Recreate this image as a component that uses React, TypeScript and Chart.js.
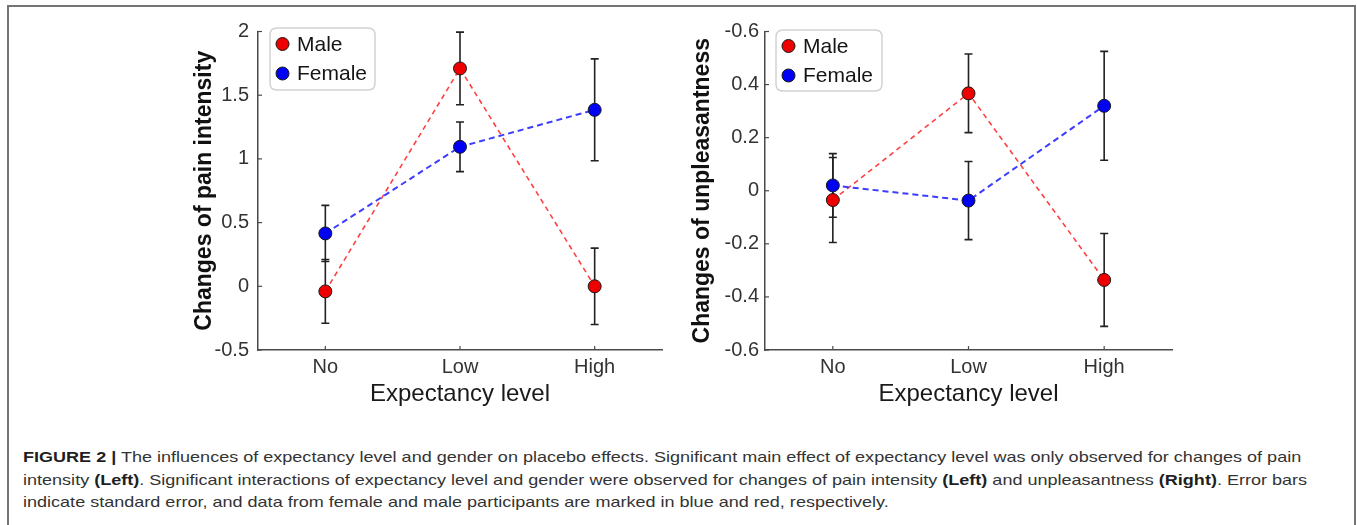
import React, { useEffect, useLayoutEffect, useRef } from "react";
import { Chart, registerables } from "chart.js";

Chart.register(...registerables);

// ---------- data ----------
const CATEGORIES = ["No", "Low", "High"];

const PAIN_MALE = [-0.04, 1.71, 0.0];
const PAIN_MALE_ERR = [0.25, 0.285, 0.3];
const PAIN_FEMALE = [0.415, 1.095, 1.385];
const PAIN_FEMALE_ERR = [0.22, 0.195, 0.4];
const PAIN_TICKS = [-0.5, 0, 0.5, 1, 1.5, 2];
const PAIN_TICK_LABELS = ["-0.5", "0", "0.5", "1", "1.5", "2"];

const UNPL_MALE = [-0.035, 0.367, -0.336];
const UNPL_MALE_ERR = [0.16, 0.148, 0.175];
const UNPL_FEMALE = [0.02, -0.037, 0.32];
const UNPL_FEMALE_ERR = [0.12, 0.147, 0.205];
const UNPL_TICKS = [-0.6, -0.4, -0.2, 0, 0.2, 0.4, 0.6];
const UNPL_TICK_LABELS = ["-0.6", "-0.4", "-0.2", "0", "0.2", "0.4", "-0.6"];

const SERIES_LABELS = ["Male", "Female"];
const X_TITLE = "Expectancy level";
const Y_TITLE_LEFT = "Changes of pain intensity";
const Y_TITLE_RIGHT = "Changes of unpleasantness";

// ---------- styles ----------
const FONT = "'Liberation Sans', Arial, Helvetica, sans-serif";
const AXIS = "#4a4a4a";
const RED_LINE = "#ff4040";
const BLUE_LINE = "#3d3dff";
const RED_PT = "#ee0000";
const BLUE_PT = "#0000f5";

const errorBarPlugin = {
  id: "errorBars",
  beforeDatasetsDraw(chart: any) {
    const { ctx } = chart;
    const y = chart.scales.y;
    chart.data.datasets.forEach((ds: any, i: number) => {
      const errs = ds.errors;
      if (!errs) return;
      const meta = chart.getDatasetMeta(i);
      ctx.save();
      ctx.strokeStyle = "#222";
      ctx.lineWidth = 1.6;
      meta.data.forEach((pt: any, j: number) => {
        const v = ds.data[j];
        const yHi = y.getPixelForValue(v + errs[j]);
        const yLo = y.getPixelForValue(v - errs[j]);
        const x = pt.x;
        ctx.beginPath();
        ctx.moveTo(x, yHi);
        ctx.lineTo(x, yLo);
        ctx.moveTo(x - 4, yHi);
        ctx.lineTo(x + 4, yHi);
        ctx.moveTo(x - 4, yLo);
        ctx.lineTo(x + 4, yLo);
        ctx.stroke();
      });
      ctx.restore();
    });
  },
};

const tickMarkPlugin = {
  id: "inTicks",
  beforeDatasetsDraw(chart: any) {
    const { ctx, chartArea } = chart;
    const { x, y } = chart.scales;
    ctx.save();
    ctx.strokeStyle = AXIS;
    ctx.lineWidth = 1.2;
    y.ticks.forEach((t: any) => {
      const py = y.getPixelForValue(t.value);
      ctx.beginPath();
      ctx.moveTo(chartArea.left, py);
      ctx.lineTo(chartArea.left + 4, py);
      ctx.stroke();
    });
    x.ticks.forEach((_t: any, i: number) => {
      const px = x.getPixelForValue(i);
      ctx.beginPath();
      ctx.moveTo(px, chartArea.bottom);
      ctx.lineTo(px, chartArea.bottom - 4);
      ctx.stroke();
    });
    ctx.restore();
  },
};

const boxLegendPlugin = {
  id: "boxLegend",
  afterDraw(chart: any, _args: any, opts: any) {
    const { ctx, chartArea } = chart;
    const x0 = chartArea.left + opts.dx;
    const y0 = chartArea.top + opts.dy;
    const w = opts.w;
    const h = opts.h;
    const r = 7;
    ctx.save();
    ctx.beginPath();
    ctx.moveTo(x0 + r, y0);
    ctx.lineTo(x0 + w - r, y0);
    ctx.quadraticCurveTo(x0 + w, y0, x0 + w, y0 + r);
    ctx.lineTo(x0 + w, y0 + h - r);
    ctx.quadraticCurveTo(x0 + w, y0 + h, x0 + w - r, y0 + h);
    ctx.lineTo(x0 + r, y0 + h);
    ctx.quadraticCurveTo(x0, y0 + h, x0, y0 + h - r);
    ctx.lineTo(x0, y0 + r);
    ctx.quadraticCurveTo(x0, y0, x0 + r, y0);
    ctx.closePath();
    ctx.fillStyle = "#ffffff";
    ctx.fill();
    ctx.strokeStyle = "#d2d2d2";
    ctx.lineWidth = 1.5;
    ctx.stroke();
    chart.data.datasets.forEach((ds: any, i: number) => {
      const cx = x0 + 12.5;
      const cy = y0 + 16 + i * 29.5;
      ctx.beginPath();
      ctx.arc(cx, cy, 6.5, 0, Math.PI * 2);
      ctx.fillStyle = ds.pointBackgroundColor;
      ctx.fill();
      ctx.strokeStyle = "#1a1a1a";
      ctx.lineWidth = 1;
      ctx.stroke();
      ctx.fillStyle = "#151515";
      ctx.font = `21px ${FONT}`;
      ctx.textBaseline = "middle";
      ctx.textAlign = "left";
      ctx.fillText(ds.label, x0 + 27, cy + 1);
    });
    ctx.restore();
  },
};

function buildConfig(p: any) {
  return {
    type: "line",
    data: {
      labels: CATEGORIES,
      datasets: [
        {
          label: SERIES_LABELS[0],
          data: p.male,
          errors: p.maleErr,
          borderColor: RED_LINE,
          borderDash: [5, 4],
          borderWidth: 1.6,
          pointBackgroundColor: RED_PT,
          pointBorderColor: "#1a1a1a",
          pointBorderWidth: 1,
          pointRadius: 6.5,
          tension: 0,
          order: 2,
        },
        {
          label: SERIES_LABELS[1],
          data: p.female,
          errors: p.femaleErr,
          borderColor: BLUE_LINE,
          borderDash: [6, 4],
          borderWidth: 2,
          pointBackgroundColor: BLUE_PT,
          pointBorderColor: "#1a1a1a",
          pointBorderWidth: 1,
          pointRadius: 6.5,
          tension: 0,
          order: 1,
        },
      ],
    },
    options: {
      animation: false,
      responsive: false,
      devicePixelRatio: 1,
      layout: { padding: { left: 0, top: 21.5, right: 18, bottom: 0 }, autoPadding: false },
      plugins: {
        legend: { display: false },
        tooltip: { enabled: false },
        boxLegend: p.legend,
      },
      scales: {
        x: {
          type: "category",
          offset: true,
          grid: { display: false, drawTicks: false },
          border: { display: true, color: AXIS, width: 1.5 },
          ticks: { padding: 5.5, color: "#333", font: { family: FONT, size: 20 } },
          title: {
            display: true,
            text: X_TITLE,
            color: "#1a1a1a",
            font: { family: FONT, size: 24 },
            padding: { top: 0, bottom: 1.6 },
          },
          afterFit: (s: any) => {
            s.height = 60;
          },
        },
        y: {
          type: "linear",
          min: p.ticks[0],
          max: p.ticks[p.ticks.length - 1],
          afterBuildTicks: (s: any) => {
            s.ticks = p.ticks.map((v: number) => ({ value: v }));
          },
          grid: { display: false, drawTicks: false },
          border: { display: true, color: AXIS, width: 1.5 },
          ticks: {
            padding: p.tickPad,
            color: "#333",
            font: { family: FONT, size: 20 },
            callback: (v: any) => {
              const i = p.ticks.findIndex((t: number) => Math.abs(t - Number(v)) < 1e-9);
              return i >= 0 ? p.tickLabels[i] : "";
            },
          },
          title: {
            display: true,
            text: p.yTitle,
            color: "#111",
            font: { family: FONT, size: 23, weight: "bold" },
            padding: { top: p.titlePad, bottom: 0 },
          },
          afterFit: (s: any) => {
            s.width = p.yWidth;
          },
        },
      },
    },
    plugins: [errorBarPlugin, tickMarkPlugin, boxLegendPlugin],
  };
}

function PlotCanvas(props: any) {
  const ref = useRef<HTMLCanvasElement | null>(null);
  useEffect(() => {
    if (!ref.current) return;
    const chart = new Chart(ref.current, buildConfig(props.params) as any);
    return () => chart.destroy();
  }, []);
  return (
    <div style={{ position: "absolute", left: props.left, top: props.top, width: 530, height: 400 }}>
      <canvas ref={ref} width={530} height={400} style={{ width: 530, height: 400, display: "block" }} />
    </div>
  );
}

const CAPTION_LINES: any[] = [
  [
    ["b", "FIGURE 2 |"],
    ["n", " The influences of expectancy level and gender on placebo effects. Significant main effect of expectancy level was only observed for changes of pain"],
  ],
  [
    ["n", "intensity "],
    ["b", "(Left)"],
    ["n", ". Significant interactions of expectancy level and gender were observed for changes of pain intensity "],
    ["b", "(Left)"],
    ["n", " and unpleasantness "],
    ["b", "(Right)"],
    ["n", ". Error bars"],
  ],
  [["n", "indicate standard error, and data from female and male participants are marked in blue and red, respectively."]],
];

function Caption() {
  const refs = useRef<(HTMLDivElement | null)[]>([]);
  useLayoutEffect(() => {
    const first = refs.current[0];
    if (!first) return;
    const natural = first.scrollWidth;
    const k = natural > 0 ? 1278 / natural : 1;
    refs.current.forEach((el) => {
      if (el) el.style.transform = `scaleX(${k})`;
    });
  }, []);
  return (
    <>
      {CAPTION_LINES.map((line, li) => (
        <div
          key={li}
          ref={(el) => {
            refs.current[li] = el;
          }}
          style={{
            position: "absolute",
            left: 23,
            top: 446 + li * 22.5,
            whiteSpace: "nowrap",
            fontFamily: FONT,
            fontSize: 15,
            lineHeight: "22px",
            color: "#333333",
            transformOrigin: "0 0",
            display: "inline-block",
          }}
        >
          {line.map((seg: any, si: number) =>
            seg[0] === "b" ? (
              <span key={si} style={{ fontWeight: "bold", color: "#1f1f1f" }}>
                {seg[1]}
              </span>
            ) : (
              <span key={si}>{seg[1]}</span>
            )
          )}
        </div>
      ))}
    </>
  );
}

export default function App() {
  const leftParams = {
    male: PAIN_MALE,
    maleErr: PAIN_MALE_ERR,
    female: PAIN_FEMALE,
    femaleErr: PAIN_FEMALE_ERR,
    ticks: PAIN_TICKS,
    tickLabels: PAIN_TICK_LABELS,
    yTitle: Y_TITLE_LEFT,
    yWidth: 108,
    titlePad: 41,
    tickPad: 9,
    legend: { dx: 12, dy: -3.5, w: 105, h: 62 },
  };
  const rightParams = {
    male: UNPL_MALE,
    maleErr: UNPL_MALE_ERR,
    female: UNPL_FEMALE,
    femaleErr: UNPL_FEMALE_ERR,
    ticks: UNPL_TICKS,
    tickLabels: UNPL_TICK_LABELS,
    yTitle: Y_TITLE_RIGHT,
    yWidth: 105,
    titlePad: 29,
    tickPad: 6,
    legend: { dx: 11, dy: -1.5, w: 106, h: 61 },
  };
  return (
    <div
      style={{
        position: "fixed",
        left: 0,
        top: 0,
        width: 1357,
        height: 525,
        background: "#ffffff",
        overflow: "hidden",
      }}
    >
      <div
        style={{
          position: "absolute",
          left: 7,
          top: 5,
          width: 1349,
          height: 600,
          border: "2px solid #747474",
          boxSizing: "border-box",
        }}
      />
      <PlotCanvas left={150} top={10} params={leftParams} />
      <PlotCanvas left={660} top={10} params={rightParams} />
      <Caption />
    </div>
  );
}
